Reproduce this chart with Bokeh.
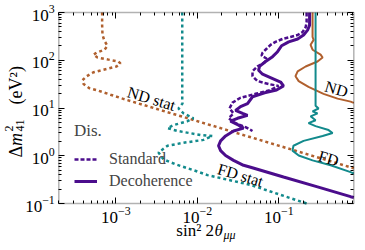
import numpy as np
from math import log10
from bokeh.plotting import figure
from bokeh.models import FixedTicker, LogAxis, Label, Legend, LegendItem, BoxAnnotation
from bokeh.embed import file_html
from bokeh.resources import INLINE

# ---- data (sin^2 2theta, Delta m^2_41 [eV^2]) ----
nd_stat_x = [6.8e-4, 6.8e-4, 6.87e-4, 7.27e-4, 7.91e-4, 7.27e-4, 5.8e-4, 5.32e-4, 5.96e-4, 8.13e-4, 1.08e-3,
             1.14e-3, 1.02e-3, 7.48e-4, 5.32e-4, 4.37e-4, 3.9e-4, 4.02e-4, 4.75e-4, 6.14e-4, 8.61e-4, 1.21e-3, 0.83]
nd_stat_y = [1000, 541, 337, 254, 201, 166, 144, 131, 114, 103, 94, 86, 74, 65, 56, 46, 38, 32, 26, 23, 19, 15.7, 0.547]

fd_stat_x = [6.53e-3, 6.53e-3, 6.58e-3, 5.88e-3, 6.78e-3, 8.98e-3, 7.58e-3, 5.10e-3, 4.31e-3, 5.72e-3, 1.09e-2,
             1.53e-2, 1.19e-2, 6.78e-3, 4.31e-3, 3.34e-3, 3.85e-3, 5.41e-3, 8.98e-3, 1.33e-2, 4.50e-2, 0.219]
fd_stat_y = [1000, 14.3, 12.4, 9.77, 7.71, 6.09, 5.29, 4.38, 3.79, 3.30, 2.73,
             2.60, 2.15, 1.87, 1.62, 1.17, 0.838, 0.662, 0.498, 0.393, 0.245, 0.1]

nd_dec_x = [0.259, 0.259, 0.267, 0.245, 0.259, 0.325, 0.344, 0.298, 0.213, 0.170, 0.160, 0.175, 0.231, 0.353,
            0.525, 0.758, 0.83]
nd_dec_y = [1000, 307, 267, 211, 166, 131, 114, 94, 74, 58.7, 46.4, 36.6, 27.6, 19.8, 15.7, 13.6, 12.8]

fd_dec_x = [0.282, 0.282, 0.307, 0.259, 0.298, 0.245, 0.282, 0.231, 0.282, 0.407, 0.456, 0.344, 0.201, 0.151,
            0.147, 0.175, 0.259, 0.431, 0.758, 0.83]
fd_dec_y = [1000, 11.2, 9.77, 8.47, 7.71, 6.70, 5.55, 4.81, 4.18, 3.45, 3.00, 2.60, 2.05, 1.62,
            1.28, 1.01, 0.80, 0.631, 0.453, 0.426]

dis_std_x = [0.219, 0.219, 0.213, 0.195, 0.170, 0.139, 0.111, 0.0910, 0.0791, 0.0706, 0.0631, 0.0614, 0.0706,
             0.0668, 0.0548, 0.0475, 0.0475, 0.0548, 0.0748, 0.0991, 0.0791, 0.0518, 0.0339, 0.0270, 0.0248,
             0.0278, 0.0242, 0.0294, 0.0390, 0.0475]
dis_std_y = [1000, 624, 492, 389, 337, 307, 279, 243, 210, 174, 144, 125, 109,
             89.9, 74.5, 58.7, 46.4, 36.6, 31.8, 29.0, 23.9, 19.8, 16.4, 13.0, 9.77,
             7.71, 6.09, 4.81, 3.98, 3.30]

dis_dec_x = [0.238, 0.238, 0.225, 0.201, 0.170, 0.132, 0.108, 0.0964, 0.0837, 0.0687, 0.0579, 0.0564, 0.0631,
             0.0813, 0.105, 0.114, 0.0937, 0.0668, 0.0475, 0.0413, 0.0339, 0.0294, 0.0359, 0.0413, 0.0311,
             0.0255, 0.0321, 0.0369, 0.0278, 0.0222, 0.0193, 0.0182, 0.0193, 0.0222, 0.0278, 0.0369, 0.0450,
             0.114, 0.298, 0.758, 0.83]
dis_dec_y = [1000, 541, 427, 337, 279, 243, 201, 151, 119, 94.2, 74.5, 61.6, 51.0,
             42.3, 35.0, 29.0, 23.9, 20.8, 17.2, 12.4, 10.7, 8.89, 7.71, 7.02, 6.09,
             5.29, 4.38, 3.79, 3.30, 2.60, 2.05, 1.62, 1.28, 1.01, 0.80, 0.631, 0.574,
             0.358, 0.223, 0.139, 0.134]

X_MIN, X_MAX = 2e-4, 0.83
Y_MIN, Y_MAX = 0.1, 1000
x_major = [1e-3, 1e-2, 1e-1]
y_major = [1e-1, 1e0, 1e1, 1e2, 1e3]

BROWN = "#b0602e"
TEAL = "#128a8c"
PURPLE = "#4b0d8c"
FONT = "Liberation Serif"

# ---- layout (pixels) ----
W, H = 357, 242
BOX_L, BOX_R, BOX_T, BOX_B = 58.3, 353.3, 12.0, 203.0
lx0, lx1 = log10(X_MIN), log10(X_MAX)
ly0, ly1 = log10(Y_MIN), log10(Y_MAX)
sx = (BOX_R - BOX_L) / (lx1 - lx0)
sy = (BOX_B - BOX_T) / (ly1 - ly0)
view_x = (10 ** (lx0 - BOX_L / sx), 10 ** (lx1 + (W - BOX_R) / sx))
view_y = (10 ** (ly0 - (H - BOX_B) / sy), 10 ** (ly1 + BOX_T / sy))


def px_x(px):
    return 10 ** (lx0 + (px - BOX_L) / sx)


def px_y(py):
    return 10 ** (ly1 - (py - BOX_T) / sy)


p = figure(width=W, height=H, x_axis_type="log", y_axis_type="log",
           x_range=view_x, y_range=view_y,
           output_backend="svg", toolbar_location=None,
           min_border_left=0, min_border_right=0, min_border_top=0, min_border_bottom=0)
p.grid.visible = False
p.outline_line_color = None
p.background_fill_color = "white"
p.border_fill_color = "white"

x_minor = [m * d for d in [1e-4, 1e-3, 1e-2, 1e-1] for m in range(2, 10) if X_MIN <= m * d <= X_MAX]
y_minor = [m * d for d in [1e-1, 1e0, 1e1, 1e2] for m in range(2, 10)]


def style_axis(ax, show_labels=True):
    ax.major_tick_in = 6
    ax.major_tick_out = 0
    ax.minor_tick_in = 3
    ax.minor_tick_out = 0
    ax.major_tick_line_color = "black"
    ax.minor_tick_line_color = "black"
    ax.major_tick_line_width = 1
    ax.minor_tick_line_width = 1
    ax.axis_line_color = None
    if show_labels:
        ax.major_label_text_font = FONT
        ax.major_label_text_font_size = "17px"
        ax.major_label_text_color = "black"
        ax.major_label_standoff = 4
    else:
        ax.major_label_text_font_size = "1px"
        ax.major_label_text_alpha = 0
        ax.major_label_standoff = 0


p.xaxis.ticker = FixedTicker(ticks=x_major, minor_ticks=x_minor)
p.yaxis.ticker = FixedTicker(ticks=y_major, minor_ticks=y_minor)
style_axis(p.xaxis[0])
style_axis(p.yaxis[0])
p.xaxis.major_label_standoff = 3
p.xaxis.fixed_location = Y_MIN
p.yaxis.fixed_location = X_MIN

top = LogAxis(ticker=FixedTicker(ticks=x_major, minor_ticks=x_minor), fixed_location=Y_MAX)
style_axis(top, False)
p.add_layout(top, "above")
right = LogAxis(ticker=FixedTicker(ticks=y_major, minor_ticks=y_minor), fixed_location=X_MAX)
style_axis(right, False)
p.add_layout(right, "right")

# standard (dotted) single-detector curves
p.line(nd_stat_x, nd_stat_y, line_color=BROWN, line_width=2.5, line_dash="3 3")
p.line(fd_stat_x, fd_stat_y, line_color=TEAL, line_width=2.5, line_dash="3 3")
# decoherence (solid) single-detector curves
p.line(nd_dec_x, nd_dec_y, line_color=BROWN, line_width=2)
p.line(fd_dec_x, fd_dec_y, line_color=TEAL, line_width=2)
# combined disappearance
r_std = p.line(dis_std_x, dis_std_y, line_color=PURPLE, line_width=2.5, line_dash="4 2")
r_dec = p.line(dis_dec_x, dis_dec_y, line_color=PURPLE, line_width=3)

# plot box
p.add_layout(BoxAnnotation(left=X_MIN, right=X_MAX, bottom=Y_MIN, top=Y_MAX,
                           fill_alpha=0, line_color="black", line_width=1.5))

legend = Legend(items=[LegendItem(label="Standard", renderers=[r_std]),
                       LegendItem(label="Decoherence", renderers=[r_dec])],
                title="Dis.", location=(67, 44))
legend.title_text_font = FONT
legend.title_text_font_size = "17px"
legend.title_text_font_style = "normal"
legend.label_text_font = FONT
legend.label_text_font_size = "16px"
legend.border_line_alpha = 0
legend.background_fill_alpha = 0
legend.glyph_width = 23
legend.glyph_height = 20
legend.label_height = 20
legend.label_standoff = 12
legend.spacing = 2
legend.padding = 7
legend.margin = 0
legend.title_standoff = 8
p.add_layout(legend, "center")

ang = -0.29
for txt, xx, yy in [("ND stat", 2.74e-3, 15.7), ("FD stat", 0.0339, 0.393),
                    ("ND", 0.509, 25.1), ("FD", 0.407, 0.879)]:
    p.add_layout(Label(x=xx, y=yy, text=txt, angle=ang, text_align="center", text_baseline="middle",
                       text_font=FONT, text_font_size="16px", text_color="black"))


def lab(px, py, text, size, style="normal", align="left", angle=0.0):
    p.add_layout(Label(x=px_x(px), y=px_y(py), text=text, angle=angle, text_align=align,
                       text_baseline="middle", text_font=FONT, text_font_size=size,
                       text_font_style=style, text_color="black"))


# x axis title: sin^2 2θ_{μμ}
lab(213.5, 230, "sin² 2", "17px", align="right")
lab(214, 230, "θ", "17px", style="italic")
lab(223, 234, "μμ", "12px", style="italic")

# y axis title: Δm^2_{41} (eV^2), rotated
R = np.pi / 2
lab(15, 157, "Δ", "18px", angle=R)
lab(15, 145.5, "m", "18px", style="italic", angle=R)
lab(8, 131, "2", "12px", angle=R)
lab(19.5, 131, "41", "12px", angle=R)
lab(15, 104, "(eV²)", "18px", angle=R)

open("out.html", "w").write(file_html(p, INLINE))
